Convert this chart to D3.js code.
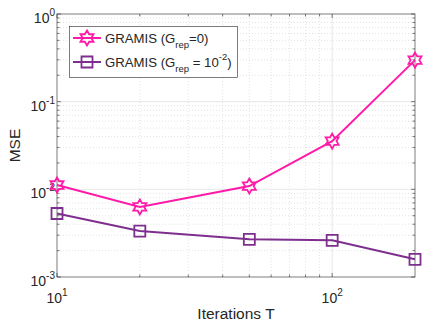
<!DOCTYPE html>
<html>
<head>
<meta charset="utf-8">
<script src="https://cdn.jsdelivr.net/npm/d3@7"></script>
<style>
  body { margin: 0; background: #fff; }
  svg { font-family: "Liberation Sans", Arial, sans-serif; }
</style>
</head>
<body>
<div class="mse-plot"></div>
<script>
const width = 436;
const height = 327;

// data
const iterations = [10, 20, 50, 100, 200];
const mseRep0 = [0.0112, 0.0063, 0.0109, 0.0355, 0.298];
const mseRep2 = [0.0053, 0.00334, 0.00269, 0.00262, 0.00159];
const seriesNames = ['GRAMIS (G', 'GRAMIS (G'];
const xTicks = [10, 100];
const yTicks = [1e-3, 1e-2, 1e-1, 1e0];

const margin = {left: 57, right: 21, top: 14, bottom: 50};

const svg = d3.select('.mse-plot')
    .append('svg')
    .attr('width', width)
    .attr('height', height)

const x = d3.scaleLog().domain([10, 200]).range([margin.left, width - margin.right])
const y = d3.scaleLog().domain([1e-3, 1]).range([height - margin.bottom, margin.top])

const x0 = x.range()[0], x1 = x.range()[1]
const y0 = y.range()[0], y1 = y.range()[1]

// minor values for grid
const xMinor = d3.range(20, 100, 10)
const yMinor = []
for (let e = -3; e < 0; e++) for (let k = 2; k <= 9; k++) yMinor.push(k * 10 ** e)

const grid = svg.append('g')
grid.selectAll('.xminor').data(xMinor).enter().append('line')
    .attr('x1', d => x(d)).attr('x2', d => x(d)).attr('y1', y0).attr('y2', y1)
    .attr('stroke', '#dcdcdc').attr('stroke-width', 0.8).attr('stroke-dasharray', '1,2')
grid.selectAll('.yminor').data(yMinor).enter().append('line')
    .attr('y1', d => y(d)).attr('y2', d => y(d)).attr('x1', x0).attr('x2', x1)
    .attr('stroke', '#dcdcdc').attr('stroke-width', 0.8).attr('stroke-dasharray', '1,2')
grid.selectAll('.xmajor').data(xTicks.slice(1)).enter().append('line')
    .attr('x1', d => x(d)).attr('x2', d => x(d)).attr('y1', y0).attr('y2', y1)
    .attr('stroke', '#e2e2e2').attr('stroke-width', 0.8)
grid.selectAll('.ymajor').data(yTicks.slice(1, -1)).enter().append('line')
    .attr('y1', d => y(d)).attr('y2', d => y(d)).attr('x1', x0).attr('x2', x1)
    .attr('stroke', '#e2e2e2').attr('stroke-width', 0.8)

// axes box with inward ticks (MATLAB look)
const axisColor = '#262626'
const ax = svg.append('g').attr('stroke', axisColor).attr('stroke-width', 0.6)
ax.append('rect').attr('x', x0).attr('y', y1).attr('width', x1 - x0).attr('height', y0 - y1)
    .attr('fill', 'none')
ax.selectAll('.xt').data(xTicks.concat(xMinor)).enter().append('path')
    .attr('d', d => {
        const l = xTicks.includes(d) ? 4 : 2.5
        return `M${x(d)},${y0}v${-l}M${x(d)},${y1}v${l}`
    })
ax.selectAll('.yt').data(yTicks.concat(yMinor)).enter().append('path')
    .attr('d', d => {
        const l = yTicks.includes(d) ? 4 : 2.5
        return `M${x0},${y(d)}h${l}M${x1},${y(d)}h${-l}`
    })

// tick labels with superscript exponents
const tickLab = svg.append('g').attr('fill', '#262626').attr('font-size', 14)
yTicks.forEach(v => {
    const t = tickLab.append('text').attr('x', x0 - 2).attr('y', y(v) + 9).attr('text-anchor', 'end')
    t.append('tspan').text('10')
    t.append('tspan').attr('font-size', 10).attr('dy', -7).text(Math.round(Math.log10(v)))
})
xTicks.forEach(v => {
    const t = tickLab.append('text').attr('x', x(v)).attr('y', y0 + 26).attr('text-anchor', 'middle')
    t.append('tspan').text('10')
    t.append('tspan').attr('font-size', 10).attr('dy', -7).text(Math.round(Math.log10(v)))
})

svg.append('text').attr('x', (x0 + x1) / 2).attr('y', 319).attr('text-anchor', 'middle')
    .attr('font-size', 15.5).attr('fill', '#262626').text('Iterations T')
svg.append('text').attr('transform', `translate(20,${(y0 + y1) / 2}) rotate(-90)`)
    .attr('text-anchor', 'middle').attr('font-size', 15.5).attr('fill', '#262626').text('MSE')

// hexagram marker path
const hexagram = r => {
    const p = []
    for (let i = 0; i < 12; i++) {
        const a = -Math.PI / 2 + i * Math.PI / 6
        const rr = i % 2 === 0 ? r : r * 0.58
        p.push([rr * Math.cos(a), rr * Math.sin(a)])
    }
    return 'M' + p.map(q => q.join(',')).join('L') + 'Z'
}
const square = r => `M${-r},${-r}h${2 * r}v${2 * r}h${-2 * r}Z`

const magenta = '#ff1aa8'
const purple = '#7e2f8e'

const line = d3.line().x((d, i) => x(iterations[i])).y(d => y(d))

const plotSeries = (vals, color, marker) => {
    svg.append('path').datum(vals).attr('d', line)
        .attr('fill', 'none').attr('stroke', color).attr('stroke-width', 2)
    svg.selectAll(null).data(vals).enter().append('path')
        .attr('transform', (d, i) => `translate(${x(iterations[i])},${y(d)})`)
        .attr('d', marker)
        .attr('fill', 'none').attr('stroke', color).attr('stroke-width', 1.8)
}
plotSeries(mseRep0, magenta, hexagram(7.5))
plotSeries(mseRep2, purple, square(5.5))

// legend
const lg = svg.append('g')
lg.append('rect').attr('x', 69.5).attr('y', 26.5).attr('width', 168).attr('height', 51)
    .attr('fill', '#fff').attr('stroke', '#262626').attr('stroke-width', 0.6)
const entries = [
    {color: magenta, marker: hexagram(7.5), sup: null, rest: '=0)'},
    {color: purple, marker: square(5.5), sup: '-2', rest: ' = 10'}
]
entries.forEach((e, i) => {
    const cy = 38 + i * 24
    lg.append('line').attr('x1', 73).attr('x2', 101).attr('y1', cy).attr('y2', cy)
        .attr('stroke', e.color).attr('stroke-width', 2)
    lg.append('path').attr('transform', `translate(87,${cy})`).attr('d', e.marker)
        .attr('fill', 'none').attr('stroke', e.color).attr('stroke-width', 1.8)
    const t = lg.append('text').attr('x', 105).attr('y', cy + 5).attr('font-size', 13.2).attr('fill', '#262626')
    t.append('tspan').text(seriesNames[i])
    t.append('tspan').attr('font-size', 9.5).attr('dy', 5).text('rep')
    t.append('tspan').attr('dy', -5).text(e.rest)
    if (e.sup) {
        t.append('tspan').attr('font-size', 9.5).attr('dy', -7).text(e.sup)
        t.append('tspan').attr('dy', 7).text(')')
    }
})
</script>
</body>
</html>
